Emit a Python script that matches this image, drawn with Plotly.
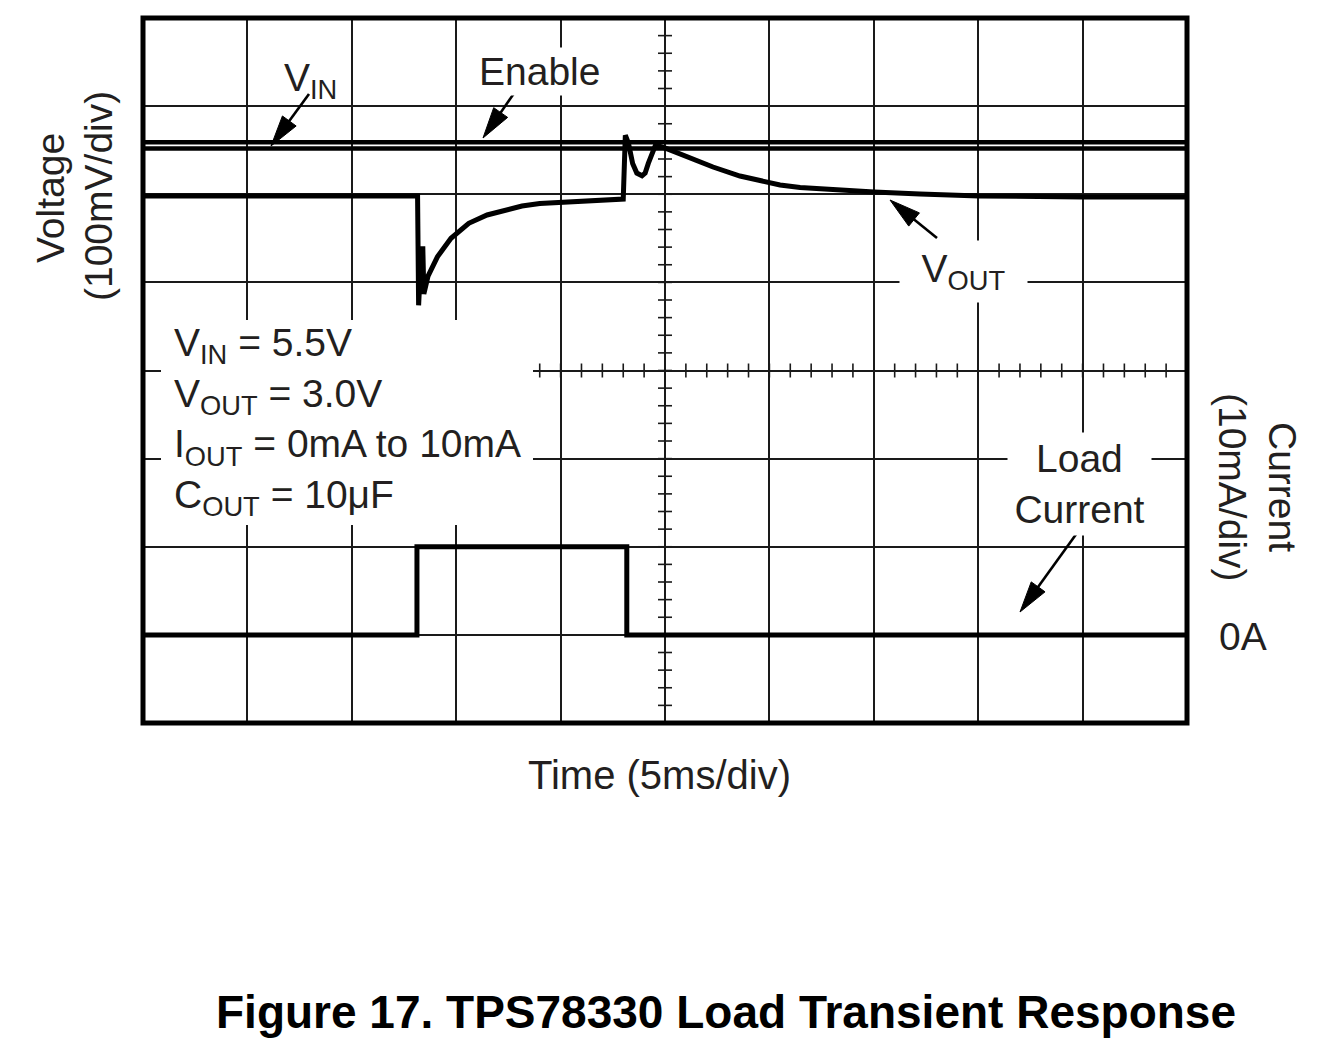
import math
import plotly.graph_objects as go

# ---------------- data ----------------
# time axis: ms (5 ms/div); voltage traces in screen divisions (100 mV/div)
time_vout = [0, 13.15, 13.2, 13.3, 13.4, 13.45, 13.65, 14.1, 14.75, 15.6, 16.48,
             17.34, 18.15, 19.0, 19.88, 20.93, 21.89, 23.0, 23.1, 23.25, 23.45,
             23.65, 23.9, 24.05, 24.2, 24.4, 24.55, 25.05, 26.2, 27.3, 28.59,
             29.55, 30.51, 31.47, 33.38, 35.01, 37.21, 40.04, 45.0, 50.0]
vout_div = [5.98, 5.98, 4.74, 5.23, 5.41, 4.87, 5.07, 5.29, 5.50, 5.67, 5.765,
            5.821, 5.867, 5.895, 5.907, 5.926, 5.935, 5.945, 6.67, 6.58, 6.35,
            6.24, 6.21, 6.24, 6.35, 6.48, 6.56, 6.52, 6.411, 6.309, 6.207,
            6.150, 6.105, 6.077, 6.043, 6.026, 6.003, 5.980, 5.97, 5.97]
time_flat = [0, 50]
vin_div = [6.59, 6.59]
enable_div = [6.52, 6.52]
time_load = [0, 13.12, 13.12, 23.17, 23.17, 50]
load_ma = [0, 0, 10, 10, 0, 0]          # 10 mA/div, 0 A at 1 div above bottom

stats_lines = ["V<sub>IN</sub> = 5.5V", "V<sub>OUT</sub> = 3.0V",
               "I<sub>OUT</sub> = 0mA to 10mA", "C<sub>OUT</sub> = 10\u03bcF"]

# ---------------- geometry helpers ----------------
W, H = 1338, 1048
OFF = 8                      # page body margin
L, R, T, B = 143, 1187, 18, 723
X_MAX, Y_DIV = 50, 8


def px(xp):
    return (xp - L) / (R - L)


def py(yp):
    return (B - yp) / (B - T)


FONT = "Liberation Sans, Arial, Helvetica, sans-serif"
TXT = "#231f20"
FS = 39

fig = go.Figure()

# centre graticule minor ticks (0.2 div)
h_tick_x = [i * 1.0 for i in range(0, 51)]
v_tick_y = [i * 0.2 for i in range(0, 41)]
fig.add_trace(go.Scatter(x=h_tick_x, y=[4] * len(h_tick_x), mode="markers",
                         marker=dict(symbol="line-ns", size=10,
                                     line=dict(color="#1a1a1a", width=1.6)),
                         hoverinfo="skip"))
fig.add_trace(go.Scatter(x=[25] * len(v_tick_y), y=v_tick_y, mode="markers",
                         marker=dict(symbol="line-ew", size=10,
                                     line=dict(color="#1a1a1a", width=1.6)),
                         hoverinfo="skip"))

line_style = dict(color="black", width=4.6)
fig.add_trace(go.Scatter(x=time_flat, y=vin_div, mode="lines", line=line_style))
fig.add_trace(go.Scatter(x=time_flat, y=enable_div, mode="lines", line=line_style))
fig.add_trace(go.Scatter(x=time_vout, y=vout_div, mode="lines",
                         line=dict(color="black", width=5)))
fig.add_trace(go.Scatter(x=time_load, y=load_ma, yaxis="y2", mode="lines",
                         line=dict(color="black", width=5)))

ann = []


def label(text, xp, yp, size=FS, **kw):
    d = dict(text=text, xref="paper", yref="paper", x=px(xp), y=py(yp),
             xanchor="center", yanchor="middle", showarrow=False,
             font=dict(family=FONT, size=size, color=TXT))
    d.update(kw)
    ann.append(d)


shapes = []
# white box behind the conditions text (hides grid)
shapes.append(dict(type="rect", xref="paper", yref="paper",
                   x0=px(161), x1=px(533), y0=py(525), y1=py(320),
                   fillcolor="white", line=dict(width=0), layer="above"))
label("<br>".join(stats_lines), 172, 422, xanchor="left", align="left")

# trace labels
label("V<sub>IN</sub>", 310, 80)
label("Enable", 539, 71, bgcolor="white", borderpad=2)
label("V<sub>OUT</sub>", 963, 271, bgcolor="white", width=115, borderpad=6)
label("Load<br>Current", 1079, 484, bgcolor="white", width=135, borderpad=4)

# axis titles
label("Voltage", 50, 198, textangle=-90)
label("(100mV/div)", 98, 196, textangle=-90)
label("Current", 1283, 487, textangle=90)
label("(10mA/div)", 1233, 487, textangle=90)
label("0A", 1243, 636)
label("Time (5ms/div)", 659, 775, size=40)
label("<b>Figure 17. TPS78330 Load Transient Response</b>", 726, 1012, size=46)
ann[-1]["font"]["color"] = "black"

# arrows (tail -> tip), drawn as shaft line + narrow filled head
arrows = [((309, 94), (271, 146)), ((517, 89), (483, 138)),
          ((937, 238), (890, 200)), ((1077, 533), (1020, 612))]
HEAD_LEN, HEAD_W = 31, 17
for (sx, sy), (ex, ey) in arrows:
    dx, dyv = ex - sx, ey - sy
    n = math.hypot(dx, dyv)
    ux, uy = dx / n, dyv / n
    bx, by = ex - ux * HEAD_LEN, ey - uy * HEAD_LEN
    nx, ny = -uy, ux
    c1 = (bx + nx * HEAD_W / 2, by + ny * HEAD_W / 2)
    c2 = (bx - nx * HEAD_W / 2, by - ny * HEAD_W / 2)
    shapes.append(dict(type="line", xref="paper", yref="paper",
                       x0=px(sx), y0=py(sy), x1=px(bx + ux * 2), y1=py(by + uy * 2),
                       line=dict(color="black", width=2.6), layer="above"))
    path = "M{},{} L{},{} L{},{} Z".format(px(ex), py(ey), px(c1[0]), py(c1[1]),
                                          px(c2[0]), py(c2[1]))
    shapes.append(dict(type="path", xref="paper", yref="paper", path=path,
                       fillcolor="black", line=dict(color="black", width=1),
                       layer="above"))

shapes.append(dict(type="rect", xref="paper", yref="paper", x0=0, x1=1,
                   y0=0, y1=1, line=dict(color="black", width=5), layer="above"))

axis_common = dict(showgrid=True, gridcolor="#1a1a1a", gridwidth=1.5,
                   zeroline=False, showticklabels=False, ticks="",
                   showline=False, fixedrange=True)

FW, FH = W - 2 * OFF, H - 2 * OFF
fig.update_layout(
    width=FW, height=FH,
    margin=dict(l=L - OFF, r=FW - (R - OFF), t=T - OFF, b=FH - (B - OFF), pad=0),
    paper_bgcolor="white", plot_bgcolor="white",
    showlegend=False,
    xaxis=dict(range=[0, X_MAX], dtick=5, tick0=0, **axis_common),
    yaxis=dict(range=[0, Y_DIV], dtick=1, tick0=0, **axis_common),
    yaxis2=dict(range=[-10, 70], overlaying="y", visible=False,
                showgrid=False, fixedrange=True),
    annotations=ann,
    shapes=shapes,
)

fig.write_html("out.html")
